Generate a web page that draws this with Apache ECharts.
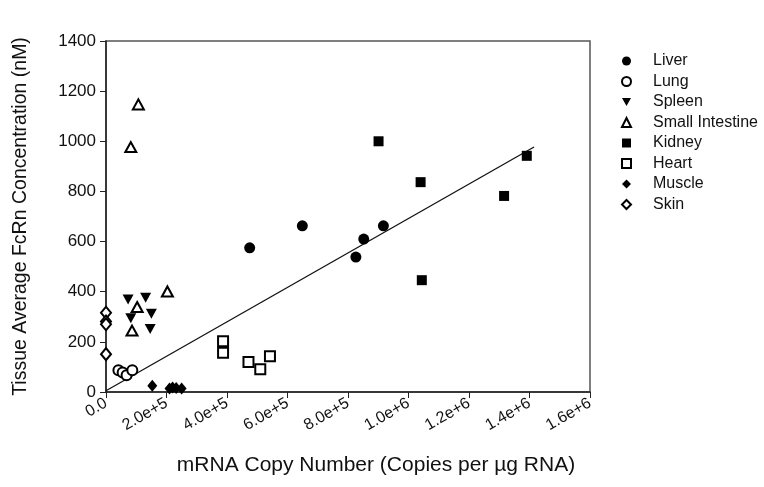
<!DOCTYPE html>
<html>
<head>
<meta charset="utf-8">
<script src="https://cdn.jsdelivr.net/npm/echarts@6/dist/echarts.min.js"></script>
<style>
  html, body { margin: 0; padding: 0; background: #fff; }
  #chart { width: 764px; height: 487px; }
</style>
</head>
<body>
<div id="chart"></div>
<script>
// tissue data: [mRNA copies, FcRn nM]
var liver = [[475000, 575], [649000, 663], [826000, 538], [852000, 610], [917000, 663]];
var lung = [[41000, 87], [55000, 78], [68000, 67], [87000, 87]];
var spleen = [[73000, 369], [131000, 376], [82000, 294], [150000, 312], [146000, 251]];
var smallIntestine = [[203000, 401], [103000, 339], [86000, 245], [107000, 1147], [82000, 977]];
var kidney = [[901000, 1000], [1040000, 837], [1044000, 446], [1316000, 782], [1391000, 942]];
var heart = [[387000, 202], [387000, 157], [471000, 120], [510000, 91], [542000, 143]];
var muscle = [[153000, 25], [210000, 14], [220000, 18], [232000, 16], [250000, 14]];
var skin = [[0, 316], [0, 281], [0, 270], [0, 151]];
var fitLine = [[0, 5], [1415000, 977]];

var tissueNames = ['Liver', 'Lung', 'Spleen', 'Small Intestine', 'Kidney', 'Heart', 'Muscle', 'Skin'];

var downTri = 'path://M0,0 L10,0 L5,9 Z';
var font = 'Liberation Sans, Arial, sans-serif';

function scatter(name, data, symbol, size) {
  var empty = symbol.indexOf('empty') === 0;
  return {
    name: name,
    type: 'scatter',
    data: data,
    symbol: symbol,
    symbolSize: size,
    itemStyle: {
      color: '#000',
      borderColor: '#000',
      borderWidth: empty ? 1.2 : 0,
      opacity: 1
    },
    z: 3
  };
}

var chart = echarts.init(document.getElementById('chart'));

var option = {
  backgroundColor: '#fff',
  animation: false,
  textStyle: { fontFamily: font },
  grid: {
    left: 106, right: 174, top: 41, bottom: 95,
    outerBoundsMode: 'none',
    containLabel: false,
    show: true,
    borderColor: '#555',
    borderWidth: 1.5
  },
  legend: {
    data: tissueNames,
    orient: 'vertical',
    left: 621,
    top: 53,
    padding: 0,
    itemWidth: 9,
    itemHeight: 9,
    itemGap: 4.5,
    textStyle: { fontSize: 16, lineHeight: 16, color: '#111', fontFamily: font, padding: [0, 0, 0, 17] }
  },
  xAxis: {
    type: 'value',
    min: 0,
    max: 1600000,
    interval: 200000,
    name: 'mRNA Copy Number (Copies per µg RNA)',
    nameLocation: 'middle',
    nameGap: 63,
    nameTextStyle: { fontSize: 21, color: '#111', padding: [0, 0, 0, 56] },
    axisLine: { lineStyle: { color: '#222', width: 1.5 } },
    axisTick: { inside: false, length: 6, lineStyle: { color: '#222' } },
    splitLine: { show: false },
    axisLabel: {
      rotate: 30,
      fontSize: 16,
      color: '#111',
      margin: 10,
      formatter: function (v) { return v === 0 ? '0.0' : v.toExponential(1); }
    }
  },
  yAxis: {
    type: 'value',
    min: 0,
    max: 1400,
    interval: 200,
    name: 'Tissue Average FcRn Concentration (nM)',
    nameLocation: 'middle',
    nameGap: 75,
    nameTextStyle: { fontSize: 19.5, color: '#111' },
    axisLine: { show: true, lineStyle: { color: '#222', width: 1.5 } },
    axisTick: { show: true, inside: false, length: 6, lineStyle: { color: '#222' } },
    splitLine: { show: false },
    axisLabel: { fontSize: 17, color: '#111', margin: 10, formatter: function (v) { return String(v); } }
  },
  series: [
    {
      name: 'fit',
      type: 'line',
      data: fitLine,
      showSymbol: false,
      symbol: 'none',
      lineStyle: { color: '#111', width: 1.3 },
      z: 2
    },
    scatter('Liver', liver, 'circle', 11),
    scatter('Lung', lung, 'emptyCircle', 10),
    scatter('Spleen', spleen, downTri, [11, 10]),
    scatter('Small Intestine', smallIntestine, 'emptyTriangle', [11, 10]),
    scatter('Kidney', kidney, 'rect', 10),
    scatter('Heart', heart, 'emptyRect', 10),
    scatter('Muscle', muscle, 'diamond', [10, 12]),
    scatter('Skin', skin, 'emptyDiamond', [10, 12])
  ]
};

chart.setOption(option);
</script>
</body>
</html>
